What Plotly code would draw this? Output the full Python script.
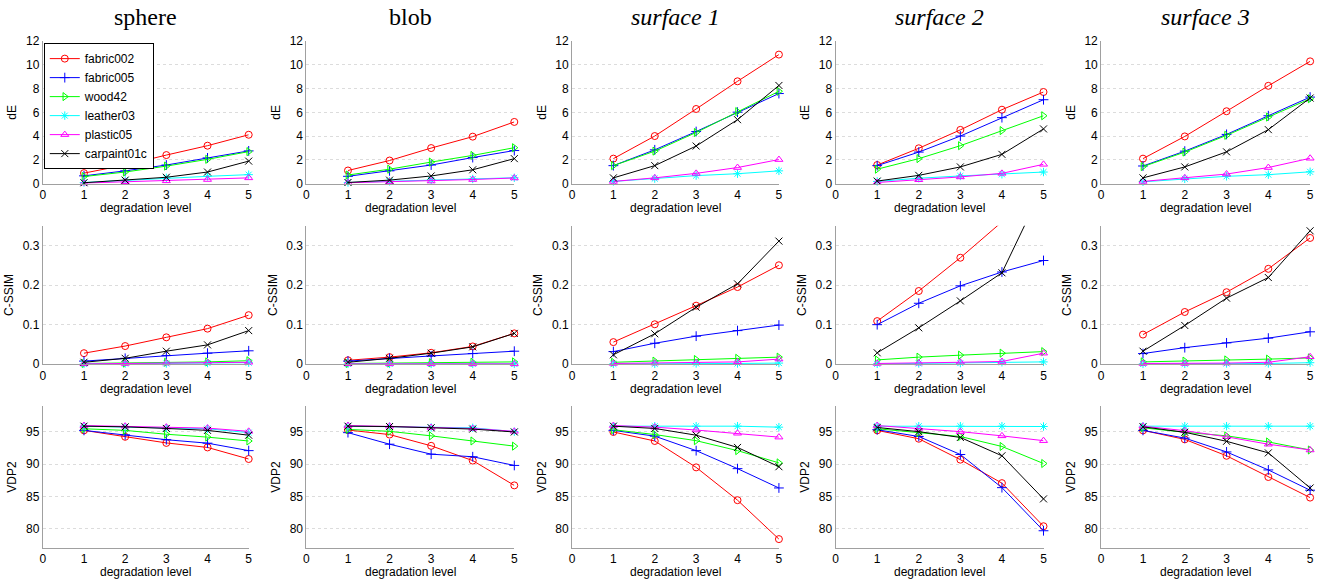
import plotly.graph_objects as go

levels = [1, 2, 3, 4, 5]
objects = ["sphere", "blob", "surface 1", "surface 2", "surface 3"]
italic_titles = [False, False, True, True, True]
materials = ["fabric002", "fabric005", "wood42", "leather03", "plastic05", "carpaint01c"]
colors = ["#ff0000", "#0000ff", "#00ff00", "#00ffff", "#ff00ff", "#000000"]
symbols = ["circle-open", "cross-thin-open", "triangle-right-open", "asterisk-open",
           "triangle-up-open", "x-thin-open"]

# dE values [object][material]
dE_sphere = [[0.89, 1.57, 2.41, 3.20, 4.12], [0.66, 1.08, 1.57, 2.17, 2.76],
             [0.60, 0.98, 1.48, 2.05, 2.70], [0.10, 0.27, 0.49, 0.62, 0.76],
             [0.05, 0.16, 0.24, 0.35, 0.49], [0.08, 0.30, 0.54, 0.98, 1.90]]
dE_blob = [[1.11, 1.95, 3.00, 3.96, 5.20], [0.62, 1.08, 1.57, 2.20, 2.79],
           [0.73, 1.22, 1.82, 2.38, 3.03], [0.10, 0.20, 0.30, 0.40, 0.50],
           [0.08, 0.15, 0.22, 0.35, 0.48], [0.10, 0.30, 0.65, 1.17, 2.11]]
dE_surf1 = [[2.11, 4.01, 6.29, 8.62, 10.87], [1.52, 2.85, 4.39, 6.02, 7.59],
            [1.52, 2.74, 4.31, 6.07, 7.78], [0.19, 0.43, 0.68, 0.84, 1.08],
            [0.19, 0.49, 0.87, 1.36, 2.03], [0.49, 1.52, 3.17, 5.39, 8.27]]
dE_surf2 = [[1.57, 2.98, 4.53, 6.23, 7.72], [1.52, 2.66, 4.01, 5.56, 7.07],
            [1.22, 2.11, 3.20, 4.47, 5.72], [0.19, 0.46, 0.65, 0.79, 0.98],
            [0.10, 0.33, 0.57, 0.87, 1.63], [0.22, 0.70, 1.41, 2.47, 4.61]]
dE_surf3 = [[2.11, 3.98, 6.10, 8.24, 10.30], [1.49, 2.74, 4.15, 5.72, 7.29],
            [1.44, 2.66, 4.07, 5.61, 7.15], [0.16, 0.41, 0.62, 0.76, 1.00],
            [0.19, 0.49, 0.81, 1.36, 2.14], [0.49, 1.41, 2.68, 4.55, 7.21]]

# C-SSIM values
cs_sphere = [[0.028, 0.046, 0.068, 0.090, 0.124], [0.008, 0.015, 0.022, 0.028, 0.034],
             [0.002, 0.003, 0.005, 0.006, 0.009], [0.001, 0.002, 0.002, 0.003, 0.004],
             [0.001, 0.002, 0.003, 0.004, 0.005], [0.005, 0.015, 0.033, 0.049, 0.085]]
cs_blob = [[0.010, 0.018, 0.029, 0.045, 0.078], [0.008, 0.015, 0.021, 0.027, 0.033],
           [0.002, 0.003, 0.004, 0.005, 0.006], [0.001, 0.001, 0.001, 0.001, 0.001],
           [0.001, 0.001, 0.001, 0.001, 0.001], [0.005, 0.015, 0.028, 0.044, 0.078]]
cs_surf1 = [[0.056, 0.101, 0.148, 0.195, 0.250], [0.032, 0.053, 0.071, 0.085, 0.099],
            [0.005, 0.008, 0.012, 0.015, 0.018], [0.001, 0.001, 0.002, 0.002, 0.003],
            [0.002, 0.003, 0.004, 0.006, 0.013], [0.024, 0.077, 0.144, 0.203, 0.311]]
cs_surf2 = [[0.109, 0.185, 0.269, 0.362, 0.450], [0.100, 0.154, 0.198, 0.233, 0.262],
            [0.011, 0.018, 0.023, 0.028, 0.032], [0.001, 0.002, 0.003, 0.005, 0.006],
            [0.002, 0.003, 0.005, 0.007, 0.028], [0.029, 0.092, 0.160, 0.231, 0.450]]
cs_surf3 = [[0.075, 0.132, 0.182, 0.241, 0.319], [0.027, 0.042, 0.054, 0.066, 0.082],
            [0.006, 0.008, 0.011, 0.013, 0.016], [0.001, 0.001, 0.002, 0.002, 0.004],
            [0.002, 0.002, 0.003, 0.005, 0.019], [0.033, 0.098, 0.167, 0.219, 0.337]]

# VDP2 values
vdp_sphere = [[95.25, 94.25, 93.3, 92.6, 90.8], [95.25, 94.55, 93.8, 93.26, 92.1],
              [95.5, 95.25, 94.65, 94.2, 93.6], [95.9, 95.75, 95.6, 95.5, 94.9],
              [96.0, 95.9, 95.75, 95.6, 95.1], [95.9, 95.8, 95.55, 95.25, 94.5]]
vdp_blob = [[95.3, 94.6, 92.85, 90.55, 86.7], [94.9, 93.1, 91.55, 91.15, 89.8],
            [95.4, 95.1, 94.4, 93.6, 92.8], [95.9, 95.85, 95.7, 95.65, 95.05],
            [96.0, 95.9, 95.7, 95.55, 95.1], [95.9, 95.85, 95.65, 95.45, 95.0]]
vdp_surf1 = [[95.0, 93.6, 89.5, 84.4, 78.35], [95.25, 94.35, 92.1, 89.3, 86.3],
             [95.35, 94.6, 93.65, 92.1, 90.2], [95.9, 95.9, 95.9, 95.9, 95.75],
             [96.0, 95.75, 95.3, 94.8, 94.2], [95.9, 95.55, 94.5, 92.6, 89.6]]
vdp_surf2 = [[95.25, 93.95, 90.7, 87.05, 80.35], [95.35, 94.3, 91.5, 86.35, 79.65],
             [95.5, 94.9, 94.3, 92.75, 90.1], [95.9, 95.9, 95.9, 95.9, 95.85],
             [96.0, 95.55, 95.05, 94.4, 93.65], [95.7, 95.05, 94.15, 91.3, 84.6]]
vdp_surf3 = [[95.25, 93.85, 91.3, 88.0, 84.8], [95.25, 94.05, 91.9, 89.1, 85.95],
             [95.65, 94.95, 94.4, 93.45, 92.2], [95.9, 95.9, 95.9, 95.9, 95.9],
             [95.9, 95.2, 94.25, 93.1, 92.2], [95.8, 94.95, 93.55, 91.75, 86.3]]

metrics = ["dE", "C-SSIM", "VDP2"]
metric_data = [
    [dE_sphere, dE_blob, dE_surf1, dE_surf2, dE_surf3],
    [cs_sphere, cs_blob, cs_surf1, cs_surf2, cs_surf3],
    [vdp_sphere, vdp_blob, vdp_surf1, vdp_surf2, vdp_surf3],
]
y_ranges = [[0, 12], [0, 0.35], [77, 99]]
y_ticks = [[0, 2, 4, 6, 8, 10, 12], [0, 0.1, 0.2, 0.3], [80, 85, 90, 95]]
y_ticktext = [["0", "2", "4", "6", "8", "10", "12"], ["0", "0.1", "0.2", "0.3"],
              ["80", "85", "90", "95"]]
x_ticks = [0, 1, 2, 3, 4, 5]
x_title = "degradation level"

W, H = 1335, 587
col_px = [(40, 247), (305, 514), (572, 780), (837, 1046), (1104, 1314)]
row_px = [(35, 181), (224, 366), (409, 554)]
xtitle_px = [206, 391, 579]

fig = go.Figure()
layout = dict(
    width=W, height=H, margin=dict(l=0, r=0, t=0, b=0),
    paper_bgcolor="white", plot_bgcolor="white",
    font=dict(family="Liberation Sans, Arial, sans-serif", size=12, color="black"),
    showlegend=True,
    legend=dict(x=41 / W, y=1 - 37 / H, xanchor="left", yanchor="top",
                bgcolor="white", bordercolor="black", borderwidth=1,
                font=dict(size=12), itemwidth=30, tracegroupgap=0),
    annotations=[],
)

axis_font = dict(family="Liberation Sans, Arial, sans-serif", size=12, color="black")
for r in range(3):
    for c in range(5):
        k = r * 5 + c + 1
        xname = "xaxis" if k == 1 else f"xaxis{k}"
        yname = "yaxis" if k == 1 else f"yaxis{k}"
        xref = "x" if k == 1 else f"x{k}"
        yref = "y" if k == 1 else f"y{k}"
        x0, x1 = col_px[c]
        t0, b0 = row_px[r]
        layout[xname] = dict(
            domain=[x0 / W, x1 / W], range=[0, 5], anchor=yref,
            tickvals=x_ticks, ticktext=[str(v) for v in x_ticks],
            showgrid=False, zeroline=False, showline=True, linecolor="#a0a0a0",
            linewidth=1, ticks="", tickfont=axis_font,
        )
        layout[yname] = dict(
            domain=[1 - b0 / H, 1 - t0 / H], range=y_ranges[r], anchor=xref,
            tickvals=y_ticks[r], ticktext=y_ticktext[r],
            showgrid=True, gridcolor="#dcdcdc", griddash="dot", gridwidth=1,
            zeroline=False, showline=True, linecolor="#a0a0a0", linewidth=1,
            ticks="", tickfont=axis_font,
            title=dict(text=metrics[r], font=axis_font, standoff=6),
        )
        layout["annotations"].append(dict(
            text=x_title, x=(x0 + x1) / 2 / W, y=1 - xtitle_px[r] / H,
            xref="paper", yref="paper", xanchor="center", yanchor="middle",
            showarrow=False, font=axis_font,
        ))
        data = metric_data[r][c]
        for m in range(6):
            vals = data[m]
            inside = all(y_ranges[r][0] <= v <= y_ranges[r][1] for v in vals)
            fig.add_trace(go.Scatter(
                x=levels, y=vals, mode="lines+markers", name=materials[m],
                xaxis=xref, yaxis=yref,
                line=dict(color=colors[m], width=1),
                marker=dict(symbol=symbols[m], size=7, color=colors[m],
                            line=dict(color=colors[m], width=1)),
                showlegend=(k == 1), legendgroup=materials[m],
                cliponaxis=not inside,
            ))

for c, name in enumerate(objects):
    x0, x1 = col_px[c]
    layout["annotations"].append(dict(
        text=name, x=(x0 + x1) / 2 / W, y=1 - 10 / H, xref="paper", yref="paper",
        xanchor="center", yanchor="middle", showarrow=False,
        font=dict(family="Liberation Serif, Times New Roman, serif", size=24,
                  color="black", style="italic" if italic_titles[c] else "normal"),
    ))

fig.update_layout(**layout)
fig.write_html("out.html")
